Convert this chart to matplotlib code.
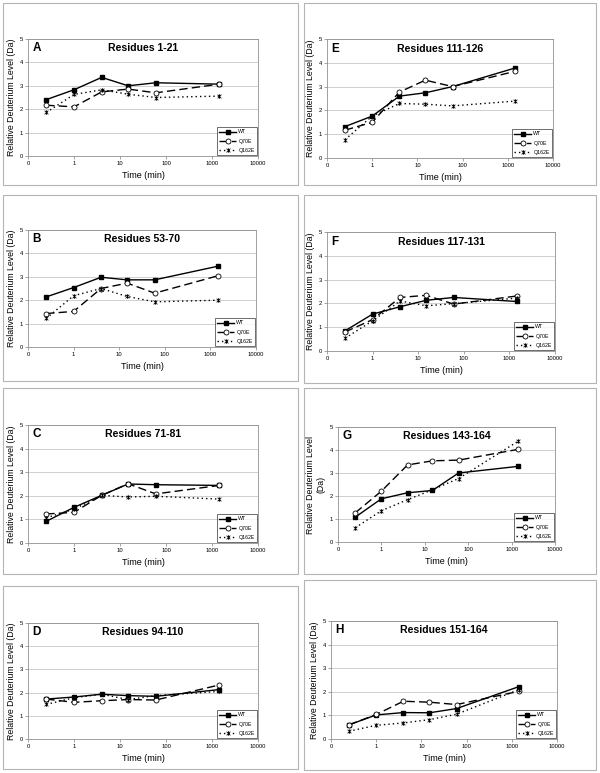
import matplotlib
matplotlib.use("Agg")
import matplotlib.pyplot as plt
from matplotlib.path import Path
from matplotlib.patches import Rectangle

plt.rcParams['font.family'] = ['Liberation Sans', 'DejaVu Sans']

# exchange times (min)
times = [0.25, 1, 4, 15, 60, 1440]

letters = ['A', 'B', 'C', 'D', 'E', 'F', 'G', 'H']
titles = ['Residues 1-21', 'Residues 53-70', 'Residues 71-81', 'Residues 94-110',
          'Residues 111-126', 'Residues 117-131', 'Residues 143-164', 'Residues 151-164']

wt = [
    [2.41, 2.83, 3.36, 3.00, 3.13, 3.07],
    [2.14, 2.54, 2.98, 2.87, 2.87, 3.45],
    [0.92, 1.51, 2.02, 2.50, 2.47, 2.44],
    [1.72, 1.81, 1.93, 1.87, 1.84, 2.13],
    [1.32, 1.76, 2.60, 2.74, 3.00, 3.78],
    [0.85, 1.55, 1.86, 2.13, 2.25, 2.08],
    [1.08, 1.88, 2.14, 2.24, 3.00, 3.29],
    [0.60, 1.02, 1.12, 1.11, 1.29, 2.22],
]
q70e = [
    [2.17, 2.10, 2.74, 2.86, 2.70, 3.07],
    [1.43, 1.52, 2.50, 2.73, 2.30, 3.04],
    [1.23, 1.30, 2.02, 2.51, 2.08, 2.44],
    [1.72, 1.58, 1.65, 1.70, 1.68, 2.33],
    [1.17, 1.50, 2.77, 3.27, 3.00, 3.64],
    [0.80, 1.32, 2.25, 2.34, 1.97, 2.31],
    [1.27, 2.21, 3.35, 3.53, 3.56, 4.03],
    [0.60, 1.04, 1.60, 1.56, 1.46, 2.02],
]
q162e = [
    [1.86, 2.63, 2.83, 2.64, 2.50, 2.56],
    [1.22, 2.19, 2.50, 2.16, 1.93, 2.00],
    [1.07, 1.43, 2.02, 1.95, 1.98, 1.86],
    [1.49, 1.78, 1.93, 1.70, 1.87, 2.05],
    [0.77, 1.76, 2.29, 2.26, 2.19, 2.39],
    [0.54, 1.27, 2.10, 1.90, 1.99, 2.22],
    [0.62, 1.36, 1.84, 2.27, 2.76, 4.39],
    [0.33, 0.58, 0.68, 0.82, 1.05, 2.09],
]
series_names = ['WT', 'Q70E', 'Q162E']

W, H = 600, 773
# panel boxes (x0, y0, x1, y1) and plot areas in pixels
boxes = [(3, 3, 298, 185), (3, 195, 298, 381), (3, 388, 298, 574), (3, 586, 298, 769),
         (304, 3, 596, 185), (304, 195, 596, 383), (304, 388, 596, 574), (304, 580, 596, 770)]
areas = [(28, 39, 258, 156), (28, 230, 256, 347), (28, 425, 258, 543), (28, 623, 258, 739),
         (327, 39, 553, 158), (327, 232, 555, 351), (338, 427, 555, 542), (331, 621, 557, 739)]

# x with a vertical bar, like the spreadsheet "star" marker
star = Path([(-1, -1), (1, 1), (-1, 1), (1, -1), (0, -1.2), (0, 1.2)],
            [Path.MOVETO, Path.LINETO, Path.MOVETO, Path.LINETO, Path.MOVETO, Path.LINETO])

fig = plt.figure(figsize=(W / 100, H / 100), dpi=100)

for i in range(8):
    bx0, by0, bx1, by1 = boxes[i]
    fig.add_artist(Rectangle((bx0 / W, 1 - by1 / H), (bx1 - bx0) / W, (by1 - by0) / H,
                             transform=fig.transFigure, fill=False, ec='#b4b4b4', lw=0.8))
    x0, y0, x1, y1 = areas[i]
    ax = fig.add_axes([x0 / W, 1 - y1 / H, (x1 - x0) / W, (y1 - y0) / H])
    ax.set_xscale('log')
    ax.set_xlim(0.1, 10000)
    ax.set_ylim(0, 5)
    ax.set_xticks([0.1, 1, 10, 100, 1000, 10000])
    ax.set_xticklabels(['0', '1', '10', '100', '1000', '10000'])
    ax.minorticks_off()
    ax.set_yticks(range(6))
    ax.tick_params(labelsize=4.2, length=2, width=0.5, color='#808080', pad=1.5)
    for s in ax.spines.values():
        s.set_color('#909090')
        s.set_linewidth(0.6)
    ax.grid(axis='y', color='#c8c8c8', lw=0.6)
    ax.set_axisbelow(True)

    ax.plot(times, wt[i], color='black', lw=1.0, marker='s', ms=2.6, mfc='black',
            label=series_names[0])
    ax.plot(times, q70e[i], color='black', lw=1.0, dashes=(6, 3), marker='o', ms=3.6,
            mfc='white', mew=0.6, label=series_names[1])
    ax.plot(times, q162e[i], color='black', lw=1.0, dashes=(1, 2.2), marker=star, ms=3.2,
            mew=0.6, label=series_names[2])

    ax.text(0.5, 0.92, titles[i], transform=ax.transAxes, ha='center', va='center',
            fontsize=7.6, fontweight='bold')
    ax.text(0.02, 0.92, letters[i], transform=ax.transAxes, ha='left', va='center',
            fontsize=8.5, fontweight='bold')
    ax.set_xlabel('Time (min)', fontsize=6.5, labelpad=3.5)
    ylab = 'Relative Deuterium Level\n(Da)' if letters[i] == 'G' else 'Relative Deuterium Level (Da)'
    ax.set_ylabel(ylab, fontsize=6.3, labelpad=3)
    leg = ax.legend(loc='lower right', fontsize=3.8, frameon=True, fancybox=False,
                    borderaxespad=0.2, handlelength=3.2, handletextpad=0.4,
                    borderpad=0.4, labelspacing=0.8)
    leg.get_frame().set_edgecolor('black')
    leg.get_frame().set_linewidth(0.5)

fig.savefig('out.png', dpi=100)
